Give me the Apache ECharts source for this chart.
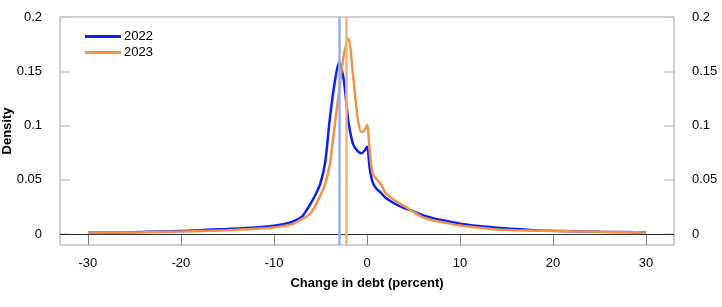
<!DOCTYPE html>
<html>
<head>
<meta charset="utf-8">
<script src="https://cdn.jsdelivr.net/npm/echarts@6.0.0/dist/echarts.min.js"></script>
<style>html,body{margin:0;padding:0;background:#fff;}#c{width:722px;height:307px;}</style>
</head>
<body>
<div id="c"></div>
<script>
const xs =    [-30,-25,-20,-15,-12,-10,-9,-8,-7,-6.5,-6,-5.5,-5,-4.5,-4,-3.5,-3,-2.5,-2,-1.5,-1,-0.6,-0.25,0,0.3,0.6,1,1.5,2,3,4,5,6,7,8,10,12,14,16,18,20,22,25,28,30];
const d2022 = [0.0013,0.0018,0.0028,0.0048,0.0062,0.0078,0.0092,0.0115,0.0160,0.022,0.029,0.037,0.047,0.066,0.106,0.138,0.158,0.142,0.104,0.083,0.0765,0.0745,0.077,0.0805,0.060,0.048,0.042,0.038,0.0335,0.028,0.024,0.021,0.0175,0.015,0.013,0.0097,0.0075,0.0059,0.0047,0.0037,0.0031,0.0027,0.0022,0.0019,0.0017];
const d2023 = [0.0012,0.0016,0.0024,0.0036,0.0049,0.0062,0.0074,0.0092,0.0140,0.016,0.020,0.027,0.036,0.046,0.064,0.098,0.132,0.165,0.180,0.146,0.107,0.094,0.096,0.1006,0.076,0.056,0.051,0.046,0.038,0.031,0.026,0.0205,0.0155,0.0128,0.0112,0.0080,0.0059,0.0043,0.0036,0.0032,0.0029,0.0026,0.0022,0.0018,0.0016];
const median2022 = -3.0;
const median2023 = -2.25;
const xTicks = [-30,-20,-10,0,10,20,30];
const yTicks = [0,0.05,0.1,0.15,0.2];
const seriesNames = ['2022','2023'];

const font = 'Liberation Sans, Arial, Helvetica, sans-serif';
const chart = echarts.init(document.getElementById('c'), null, {renderer:'canvas'});
const pair = arr => xs.map((x,i)=>[x,arr[i]]);
const yAxisCommon = {
  type:'value', min:-0.01, max:0.2,
  axisLine:{show:false, onZero:false},
  splitLine:{show:false},
  axisTick:{show:true, inside:true, length:10, customValues:yTicks, lineStyle:{color:'#c8c8c8', width:1.5}},
  axisLabel:{customValues:yTicks, color:'#000', fontSize:13, fontFamily:font, margin:18, formatter:v=>String(+v.toFixed(2))}
};
chart.setOption({
  animation:false,
  textStyle:{fontFamily:font},
  grid:{left:60, right:48, top:17, bottom:62, show:true, borderColor:'#a0a0a0', borderWidth:1, outerBoundsMode:'none', containLabel:false},
  legend:{
    data:seriesNames, orient:'vertical', left:80, top:25, icon:'rect', itemWidth:36, itemHeight:3, itemGap:3,
    textStyle:{fontSize:13, color:'#000', fontFamily:font, padding:[0,0,0,-2]}
  },
  xAxis:{
    type:'value', min:-33, max:33,
    axisLine:{show:false, onZero:false},
    splitLine:{show:false},
    axisTick:{show:true, inside:true, length:11, customValues:xTicks, lineStyle:{color:'#888', width:1}},
    axisLabel:{customValues:xTicks, color:'#000', fontSize:13, fontFamily:font, margin:12},
    name:'Change in debt (percent)', nameLocation:'middle', nameGap:32,
    nameTextStyle:{fontWeight:'bold', fontSize:13, color:'#000', fontFamily:font}
  },
  yAxis:[
    Object.assign({}, yAxisCommon, {position:'left', name:'Density', nameLocation:'middle', nameGap:46, nameRotate:90, nameMoveOverlap:false,
      nameTextStyle:{fontWeight:'bold', fontSize:13, color:'#000', fontFamily:font}}),
    Object.assign({}, yAxisCommon, {position:'right'})
  ],
  series:[
    {name:'2022', type:'line', data:pair(d2022), smooth:0.3, symbol:'none', lineStyle:{color:'#0a22ee', width:2.5}, itemStyle:{color:'#0a22ee'}, z:3},
    {name:'2023', type:'line', data:pair(d2023), smooth:0.3, symbol:'none', lineStyle:{color:'#f0924a', width:2.5}, itemStyle:{color:'#f0924a'}, z:4},
    {type:'line', data:[], symbol:'none', silent:true, z:6,
      markLine:{silent:true, symbol:'none', label:{show:false}, animation:false,
        data:[
          {yAxis:0, lineStyle:{color:'#333', width:1, type:'solid'}},
          {xAxis:median2022, lineStyle:{color:'#9aabf8', width:2.5, type:'solid'}},
          {xAxis:median2023, lineStyle:{color:'#f6b071', width:2.5, type:'solid'}}
        ]}}
  ]
});
</script>
</body>
</html>
